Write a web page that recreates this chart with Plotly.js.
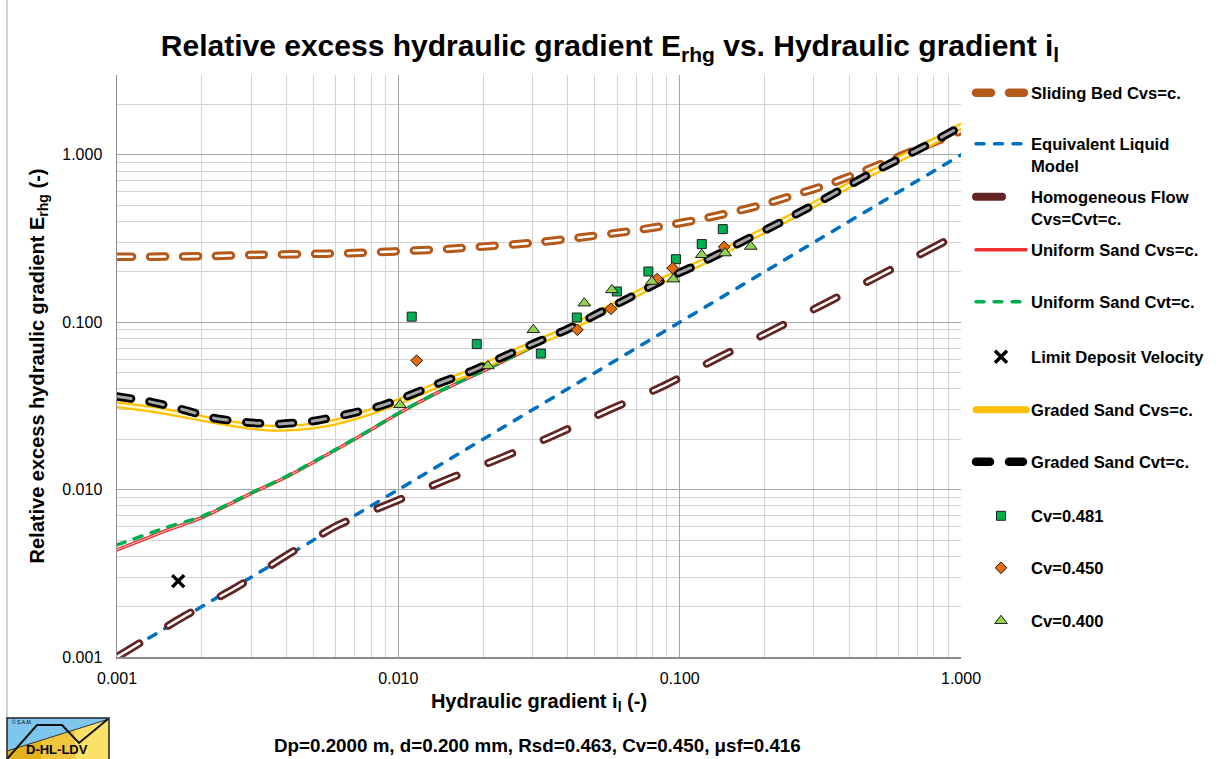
<!DOCTYPE html>
<html><head><meta charset="utf-8">
<script src="https://cdn.plot.ly/plotly-3.0.1.min.js"></script>
<style>
html,body{margin:0;padding:0;background:#fff;}
#chart{width:1220px;height:759px;}
.js-line{stroke-linecap:round;}
</style></head><body><div id="chart"></div>
<script>
// ---------------- data ----------------
const slidingBedIl = [0.001,0.002,0.0032,0.0056,0.0074,0.0097,0.015,0.02,0.03,0.045,0.065,0.0852,0.1158,0.1511,0.197,0.257,0.3356,0.4344,0.57,0.733,1.0];
const slidingBedE  = [0.246,0.248,0.253,0.257,0.260,0.265,0.274,0.283,0.298,0.322,0.348,0.373,0.409,0.451,0.503,0.577,0.663,0.782,0.94,1.118,1.39];

const elmIl = [0.001,0.01,0.1,1.0];
const elmE  = [0.001,0.01,0.1,1.0];

const homogIl = [0.001,0.00173,0.00265,0.0040,0.00608,0.0097,0.01477,0.02318,0.03636,0.0561,0.087,0.1347,0.207,0.3194,0.491,0.843,1.0];
const homogE  = [0.001,0.00175,0.0026,0.00404,0.00611,0.00848,0.01143,0.01547,0.02138,0.02995,0.0414,0.0604,0.0871,0.1262,0.183,0.294,0.343];

const uniformIl    = [0.001,0.0015,0.002,0.003,0.004,0.006,0.008,0.01,0.014,0.02,0.03,0.04,0.0514,0.0657,0.085,0.109,0.139,0.168,0.2275,0.291,0.372,0.475,0.607,0.776,1.0];
const uniformCvsE  = [0.00437,0.0057,0.0068,0.0095,0.0119,0.0173,0.0228,0.0285,0.0385,0.0510,0.0712,0.0903,0.112,0.138,0.174,0.210,0.257,0.304,0.393,0.489,0.614,0.769,0.949,1.17,1.48];
const uniformCvtE  = [0.00467,0.00595,0.0069,0.00955,0.0120,0.0174,0.0229,0.0286,0.0387,0.0512,0.0714,0.0905,0.112,0.138,0.174,0.210,0.257,0.304,0.393,0.489,0.614,0.769,0.949,1.17,1.48];

const ldvIl = [0.00165];
const ldvE  = [0.00284];

const gradedCvsIl = [0.001,0.00142,0.00214,0.0029,0.0035,0.0045,0.00557,0.007,0.00838,0.0107,0.014,0.018,0.024,0.0315,0.040,0.0514,0.0657,0.085,0.109,0.139,0.168,0.2275,0.291,0.372,0.475,0.607,0.776,1.0];
const gradedCvsE  = [0.0321,0.0297,0.0261,0.0240,0.0233,0.0236,0.0247,0.0272,0.0300,0.0350,0.0428,0.0503,0.0627,0.0765,0.0908,0.113,0.139,0.175,0.211,0.258,0.305,0.394,0.49,0.615,0.77,0.95,1.17,1.48];

const gradedCvtIl = [0.001,0.0013,0.0017,0.0022,0.0029,0.0038,0.005,0.0066,0.0087,0.0107,0.014,0.018,0.024,0.0315,0.040,0.0514,0.0657,0.085,0.109,0.139,0.168,0.2275,0.291,0.372,0.475,0.607,0.776,1.0];
const gradedCvtE  = [0.0360,0.0336,0.0302,0.0268,0.0252,0.0247,0.0257,0.0282,0.0317,0.0360,0.0433,0.0507,0.0630,0.0767,0.0910,0.113,0.139,0.175,0.211,0.258,0.305,0.394,0.49,0.615,0.77,0.95,1.17,1.48];

const cv481Il = [0.01116,0.0190,0.0321,0.0431,0.0598,0.0774,0.0970,0.1198,0.1423];
const cv481E  = [0.108,0.0740,0.0650,0.1067,0.1527,0.201,0.238,0.293,0.360];

const cv450Il = [0.01162,0.0433,0.0570,0.0831,0.0944,0.1439];
const cv450E  = [0.0590,0.0901,0.1202,0.181,0.2106,0.282];

const cv400Il = [0.01014,0.0208,0.0302,0.0458,0.0574,0.0796,0.0950,0.1198,0.145,0.179];
const cv400E  = [0.0321,0.0548,0.0901,0.130,0.156,0.175,0.181,0.253,0.259,0.2835];

const tickVals = [0.001,0.01,0.1,1];
const tickText = ['0.001','0.010','0.100','1.000'];

const seriesNames = ['Sliding Bed Cvs=c.','Equivalent Liquid<br>Model','Homogeneous Flow<br>Cvs=Cvt=c.','Uniform Sand Cvs=c.','Uniform Sand Cvt=c.','Limit Deposit Velocity','Graded Sand Cvs=c.','Graded Sand Cvt=c.','Cv=0.481','Cv=0.450','Cv=0.400'];

// ---------------- layout helpers ----------------
const FONT = 'Arial, "Liberation Sans", Helvetica, sans-serif';
const W = 1220, H = 759;
const PL = 117, PR = 961, PT = 75, PB = 657;
const px2x = p => (p - PL) / (PR - PL);
const px2y = p => (PB - p) / (PB - PT);

const legendRowPx = [93,145,198,250,302,357,410,462,516,568,621];
const legendTwoLine = [false,true,true,false,false,false,false,false,false,false,false];

const layout = {
  width: W, height: H,
  paper_bgcolor: '#fff', plot_bgcolor: '#fff',
  margin: {l: PL, r: W - PR, t: PT, b: H - PB, pad: 0},
  font: {family: FONT, color: '#000'},
  title: {text: 'Relative excess hydraulic gradient E<sub>rhg</sub> vs. Hydraulic gradient i<sub>l</sub>',
          font: {family: FONT, size: 30, weight: 'bold', color: '#000'},
          x: 0.5, xref: 'container', xanchor: 'center', y: 1 - 45/H, yref: 'container', yanchor: 'middle'},
  xaxis: {type: 'log', range: [-3, 0], tickvals: tickVals, ticktext: tickText,
          tickfont: {family: FONT, size: 16, color: '#000'}, ticks: '', ticklabelstandoff: 6,
          showgrid: true, gridcolor: '#a6a6a6', gridwidth: 1,
          minor: {dtick: 'D1', showgrid: true, gridcolor: '#d4d4d4', gridwidth: 1, ticks: ''},
          showline: true, linecolor: '#8c8c8c', linewidth: 1.5, zeroline: false, automargin: false,
          title: {text: 'Hydraulic gradient i<sub>l</sub> (-)', font: {family: FONT, size: 20, weight: 'bold', color: '#000'}, standoff: 8}},
  yaxis: {type: 'log', range: [-3, Math.log10(3)], tickvals: tickVals, ticktext: tickText,
          tickfont: {family: FONT, size: 16, color: '#000'}, ticks: '', ticklabelstandoff: 10,
          showgrid: true, gridcolor: '#a6a6a6', gridwidth: 1,
          minor: {dtick: 'D1', showgrid: true, gridcolor: '#d4d4d4', gridwidth: 1, ticks: ''},
          showline: true, linecolor: '#8c8c8c', linewidth: 1.5, zeroline: false, automargin: false,
          title: {text: 'Relative excess hydraulic gradient E<sub>rhg</sub> (-)', font: {family: FONT, size: 20, weight: 'bold', color: '#000'}, standoff: 12}},
  showlegend: true,
  annotations: [],
  shapes: []
};

let legendCount = 0;
function addLegend(row) {
  legendCount++;
  const key = legendCount === 1 ? 'legend' : 'legend' + legendCount;
  const yc = legendTwoLine[row] ? legendRowPx[row] + 10 : legendRowPx[row];
  layout[key] = {
    x: 971 / W, xanchor: 'left', xref: 'container',
    y: 1 - yc / H, yanchor: 'middle', yref: 'container',
    bgcolor: 'rgba(0,0,0,0)', borderwidth: 0, itemwidth: 50, valign: 'top',
    font: {family: FONT, size: 16.6, weight: 'bold', color: '#000'},
    itemclick: false, itemdoubleclick: false
  };
  return key;
}

const traces = [];
function lineSeries(row, x, y, color, width, dash, core) {
  traces.push({type: 'scatter', mode: 'lines', x: x, y: y, name: seriesNames[row],
    line: {color: color, width: width, dash: dash, shape: 'spline', smoothing: 0.6},
    legend: addLegend(row), hoverinfo: 'skip'});
  if (core) {
    traces.push({type: 'scatter', mode: 'lines', x: x, y: y, name: seriesNames[row], showlegend: false,
      line: {color: core.color, width: core.width, dash: dash, shape: 'spline', smoothing: 0.6},
      hoverinfo: 'skip'});
  }
}
function markerSeries(row, x, y, marker) {
  traces.push({type: 'scatter', mode: 'markers', x: x, y: y, name: seriesNames[row],
    marker: marker, legend: addLegend(row), hoverinfo: 'skip'});
}

lineSeries(0, slidingBedIl, slidingBedE, '#b5591a', 8.5, '15px,18px', {color: '#ffffff', width: 2.5});
lineSeries(1, elmIl, elmE, '#0070c0', 3.5, '8px,10.5px');
lineSeries(2, homogIl, homogE, '#632523', 8, '26px,34px', {color: '#ffffff', width: 2.5});
lineSeries(3, uniformIl, uniformCvsE, '#f23030', 3.5, 'solid', {color: 'rgba(255,205,205,1)', width: 1});
lineSeries(4, uniformIl, uniformCvtE, '#00b050', 3.5, '8px,10px');
markerSeries(5, ldvIl, ldvE, {symbol: 'x-thin-open', size: 12, color: '#000', line: {width: 3.5, color: '#000'}});
lineSeries(6, gradedCvsIl, gradedCvsE, '#ffc000', 7, 'solid', {color: 'rgba(255,252,225,0.95)', width: 2.5});
lineSeries(7, gradedCvtIl, gradedCvtE, '#000000', 8.5, '14px,19px', {color: 'rgba(255,255,255,0.65)', width: 3});
markerSeries(8, cv481Il, cv481E, {symbol: 'square', size: 9, color: '#00b050', line: {width: 1, color: '#1e1e1e'}});
markerSeries(9, cv450Il, cv450E, {symbol: 'diamond', size: 9, color: '#e36c09', line: {width: 1, color: '#1e1e1e'}});
markerSeries(10, cv400Il, cv400E, {symbol: 'triangle-up', size: 11, color: '#92d050', line: {width: 1, color: '#1e1e1e'}});

// bottom caption
layout.annotations.push({xref: 'paper', yref: 'paper', x: px2x(537), y: px2y(745), xanchor: 'center', yanchor: 'middle',
  text: 'Dp=0.2000 m, d=0.200 mm, Rsd=0.463, Cv=0.450, μsf=0.416', showarrow: false,
  font: {family: FONT, size: 18.8, weight: 'bold', color: '#000'}});

// chart left border
layout.shapes.push({type: 'line', xref: 'paper', yref: 'paper', x0: px2x(7), x1: px2x(7), y0: px2y(0), y1: px2y(718), line: {color: '#a6a6a6', width: 1}});

// logo
const P = (x, y) => px2x(x) + ',' + px2y(y);
layout.shapes.push({type: 'rect', xref: 'paper', yref: 'paper', x0: px2x(7), x1: px2x(109), y0: px2y(718), y1: px2y(765), fillcolor: '#7fc6ee', line: {width: 0}, layer: 'above'});
const yb = x => 751 - (x - 7) * 32 / 102;
const strips = [[7, 41, '#e2b21c'], [41, 75, '#f0c63e'], [75, 109, '#fbe167']];
strips.forEach(s => {
  layout.shapes.push({type: 'path', xref: 'paper', yref: 'paper', layer: 'above',
    path: 'M' + P(s[0], yb(s[0])) + 'L' + P(s[1], yb(s[1])) + 'L' + P(s[1], 765) + 'L' + P(s[0], 765) + 'Z',
    fillcolor: s[2], line: {width: 0}});
});
layout.shapes.push({type: 'path', xref: 'paper', yref: 'paper', layer: 'above',
  path: 'M' + P(7, 751) + 'L' + P(109, 719), line: {color: '#333', width: 1}});
layout.shapes.push({type: 'path', xref: 'paper', yref: 'paper', layer: 'above',
  path: 'M' + P(7, 759) + 'L' + P(37, 725) + 'L' + P(62, 725) + 'L' + P(79, 743) + 'L' + P(108, 719),
  line: {color: '#111', width: 2}});
layout.shapes.push({type: 'rect', xref: 'paper', yref: 'paper', x0: px2x(7), x1: px2x(109), y0: px2y(718), y1: px2y(765), line: {color: '#222', width: 1.5}, layer: 'above'});
layout.annotations.push({xref: 'paper', yref: 'paper', x: px2x(10), y: px2y(722), xanchor: 'left', yanchor: 'middle',
  text: '© S.A.M.', showarrow: false, font: {family: FONT, size: 5, color: '#000'}});
layout.annotations.push({xref: 'paper', yref: 'paper', x: px2x(57), y: px2y(750), xanchor: 'center', yanchor: 'middle',
  text: 'D-HL-LDV', showarrow: false, font: {family: FONT, size: 13, weight: 'bold', color: '#000'}});

Plotly.newPlot('chart', traces, layout, {displayModeBar: false, staticPlot: true});
</script></body></html>
